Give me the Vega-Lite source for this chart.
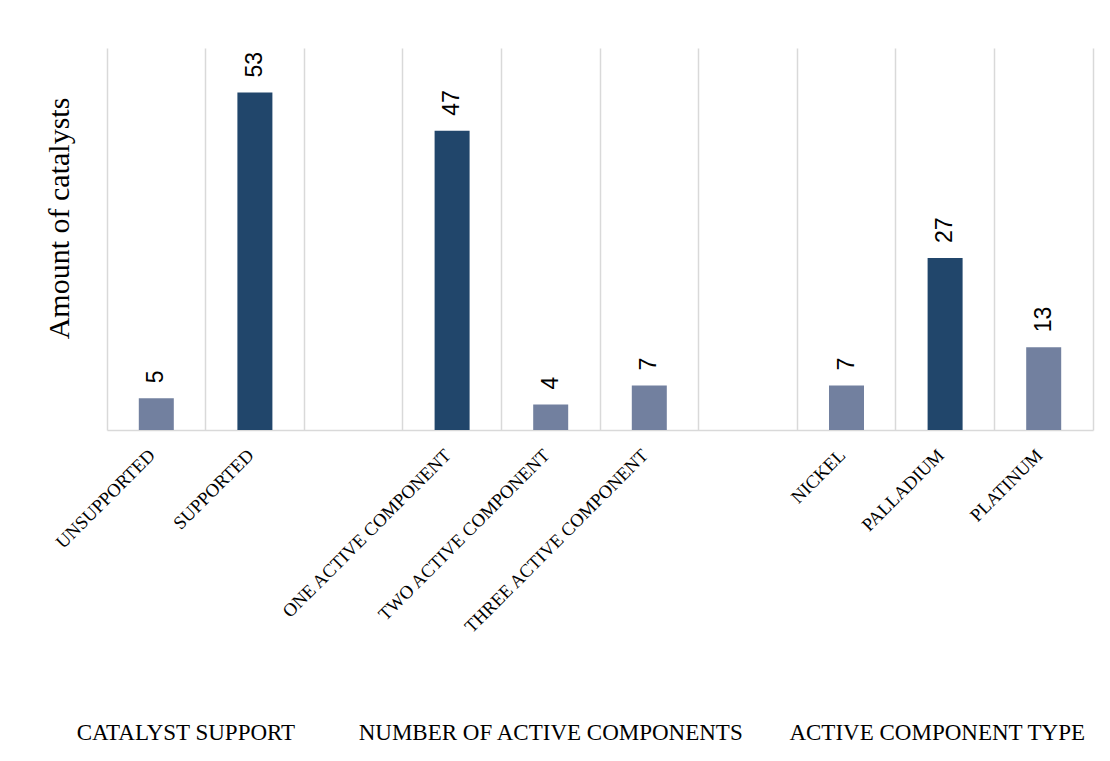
{
  "$schema": "https://vega.github.io/schema/vega-lite/v6.json",
  "width": 986,
  "height": 382,
  "autosize": {"type": "none"},
  "padding": {"left": 107, "top": 48, "right": 17, "bottom": 331},
  "background": "white",
  "config": {"view": {"stroke": null}},
  "datasets": {
    "bars": [
      {"category": "Unsupported", "count": 5},
      {"category": "Supported", "count": 53},
      {"category": "One active component", "count": 47},
      {"category": "Two active component", "count": 4},
      {"category": "Three active component", "count": 7},
      {"category": "Nickel", "count": 7},
      {"category": "Palladium", "count": 27},
      {"category": "Platinum", "count": 13}
    ],
    "groups": [
      {"group": "CATALYST SUPPORT", "anchor": "Unsupported"},
      {"group": "NUMBER OF ACTIVE COMPONENTS", "anchor": "Two active component"},
      {"group": "ACTIVE COMPONENT TYPE", "anchor": "Palladium"}
    ]
  },
  "layer": [
    {
      "data": {"name": "bars"},
      "mark": {"type": "bar", "width": {"band": 0.355}},
      "encoding": {
        "x": {
          "field": "category",
          "type": "nominal",
          "sort": null,
          "scale": {
            "domain": ["Unsupported", "Supported", "gap1", "One active component", "Two active component", "Three active component", "gap2", "Nickel", "Palladium", "Platinum"],
            "paddingInner": 0,
            "paddingOuter": 0
          },
          "axis": {
            "title": null,
            "grid": true,
            "gridColor": "#d9d9d9",
            "gridWidth": 1.5,
            "bandPosition": 1,
            "ticks": false,
            "tickSize": 0,
            "domainColor": "#d9d9d9",
            "domainWidth": 1.5,
            "labelAngle": -45,
            "labelAlign": "right",
            "labelBaseline": "alphabetic",
            "labelPadding": 26,
            "labelFont": "Liberation Serif",
            "labelFontSize": 18.5,
            "labelColor": "black",
            "labelLimit": 400,
            "labelOverlap": false,
            "labelBound": false,
            "labelFlush": false,
            "labelExpr": "indexof(datum.label, 'gap') === 0 ? '' : upper(datum.label)"
          }
        },
        "y": {
          "field": "count",
          "type": "quantitative",
          "scale": {"domain": [0, 60], "nice": false},
          "axis": {
            "title": "Amount of catalysts",
            "titleFont": "Liberation Serif",
            "titleFontSize": 30,
            "titleFontWeight": "normal",
            "titleColor": "black",
            "titlePadding": 33,
            "titleY": 170,
            "labels": false,
            "ticks": false,
            "grid": false,
            "domain": true,
            "domainColor": "#d9d9d9",
            "domainWidth": 1.5
          }
        },
        "color": {
          "condition": {"test": "datum.count >= 27", "value": "#21466b"},
          "value": "#72809f"
        }
      }
    },
    {
      "data": {"name": "bars"},
      "mark": {"type": "text", "angle": 270, "align": "left", "baseline": "middle", "dx": 15, "font": "Liberation Sans", "fontSize": 23, "color": "black"},
      "encoding": {
        "x": {"field": "category", "type": "nominal", "sort": null},
        "y": {"field": "count", "type": "quantitative"},
        "text": {"field": "count", "type": "quantitative"}
      }
    },
    {
      "data": {"name": "groups"},
      "transform": [{"filter": "datum.anchor === 'Unsupported'"}],
      "mark": {"type": "text", "align": "center", "baseline": "alphabetic", "font": "Liberation Serif", "fontSize": 23, "color": "black"},
      "encoding": {
        "x": {"field": "anchor", "type": "nominal", "bandPosition": 0.8},
        "y": {"datum": -48.7, "type": "quantitative"},
        "text": {"field": "group"}
      }
    },
    {
      "data": {"name": "groups"},
      "transform": [{"filter": "datum.anchor === 'Two active component'"}],
      "mark": {"type": "text", "align": "center", "baseline": "alphabetic", "font": "Liberation Serif", "fontSize": 23, "color": "black"},
      "encoding": {
        "x": {"field": "anchor", "type": "nominal", "bandPosition": 0.5},
        "y": {"datum": -48.7, "type": "quantitative"},
        "text": {"field": "group"}
      }
    },
    {
      "data": {"name": "groups"},
      "transform": [{"filter": "datum.anchor === 'Palladium'"}],
      "mark": {"type": "text", "align": "center", "baseline": "alphabetic", "font": "Liberation Serif", "fontSize": 23, "color": "black"},
      "encoding": {
        "x": {"field": "anchor", "type": "nominal", "bandPosition": 0.42},
        "y": {"datum": -48.7, "type": "quantitative"},
        "text": {"field": "group"}
      }
    }
  ]
}
